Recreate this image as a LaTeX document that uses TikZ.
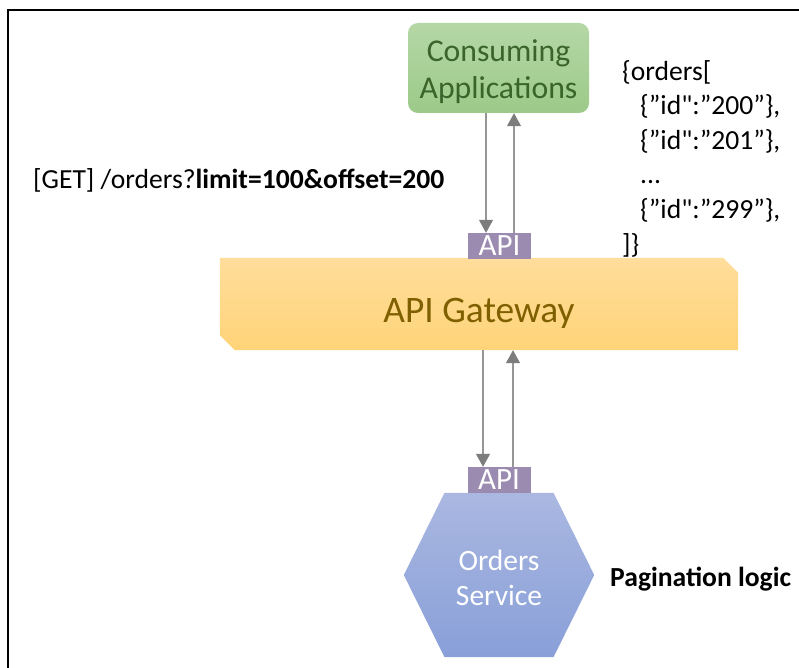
\documentclass[tikz,border=0pt]{standalone}
\usepackage{fontspec}
\setmainfont{Carlito}[Ligatures=TeXOff]
\usetikzlibrary{arrows.meta,backgrounds}
\definecolor{greenTop}{RGB}{181,215,166}
\definecolor{greenBot}{RGB}{156,202,137}
\definecolor{greenTxt}{RGB}{58,100,42}
\definecolor{goldTop}{RGB}{255,221,155}
\definecolor{goldBot}{RGB}{255,211,120}
\definecolor{goldTxt}{RGB}{127,96,0}
\definecolor{blueTop}{RGB}{170,184,225}
\definecolor{blueBot}{RGB}{137,159,216}
\definecolor{apiFill}{RGB}{155,139,176}
\definecolor{arrGray}{RGB}{125,125,125}
\definecolor{lineGray}{RGB}{150,150,150}
\tikzset{
  txt/.style={inner sep=0pt, font=\fontsize{27.6}{34.4}\selectfont},
  apibox/.style={fill=apiFill, text=white, inner sep=0pt, minimum width=63pt, minimum height=26pt, font=\fontsize{31}{32}\selectfont},
  flow/.style={draw=lineGray, line width=1.1pt, -{Triangle[length=13pt,width=14pt,fill=arrGray,color=arrGray]}},
}
\begin{document}
\begin{tikzpicture}[x=1pt,y=-1pt]
\useasboundingbox (0,0) rectangle (799,668);
\draw[line width=2.5pt] (799,10) -- (8,10) -- (8,668);

% Consuming Applications
\node[txt, top color=greenTop, bottom color=greenBot, rounded corners=10pt,
      minimum width=181pt, minimum height=90pt, text=greenTxt, align=center,
      font=\fontsize{31.7}{37}\selectfont] (consume) at (498.5,68) {\rule{0pt}{30pt}Consuming\\Applications};

% API Gateway
\node[txt, minimum width=518pt, minimum height=92pt, text=goldTxt,
      font=\fontsize{37.4}{40}\selectfont, text height=36pt, text depth=0pt] (gw) at (479,304) {API Gateway};

% Orders Service hexagon
\node[txt, minimum width=190pt, minimum height=164pt, text=white, align=center,
      font=\fontsize{29.5}{35}\selectfont] (orders) at (499,575) {\rule{0pt}{27pt}Orders\\Service};

\begin{scope}[on background layer]
\fill[white] (0,0) rectangle (799,668);
\shade[top color=goldTop, bottom color=goldBot]
  (gw.north west) -- ([xshift=-15pt]gw.north east) -- ([yshift=-15pt]gw.north east)
  -- (gw.south east) -- ([xshift=15pt]gw.south west) -- ([yshift=15pt]gw.south west) -- cycle;
\shade[top color=blueTop, bottom color=blueBot]
  ([xshift=-54.5pt]orders.north) -- ([xshift=54.5pt]orders.north) -- (orders.east)
  -- ([xshift=54.5pt]orders.south) -- ([xshift=-54.5pt]orders.south) -- (orders.west) -- cycle;
\end{scope}

% API boxes
\node[apibox] (api1) at (499.5,246) {API};
\node[apibox] (api2) at (499,480) {API};

% connectors
\draw[flow] ([xshift=-12.5pt]consume.south) -- ([xshift=-12.5pt]consume.south |- api1.north);
\draw[flow] ([xshift=14.5pt]api1.north) -- ([xshift=14.5pt]api1.north |- consume.south);
\draw[flow] ([xshift=-16pt]api2.north |- gw.south) -- ([xshift=-16pt]api2.north);
\draw[flow] ([xshift=14pt]api2.north) -- ([xshift=14pt]api2.north |- gw.south);

% texts
\node[txt, anchor=base west] (get) at (33,189) {[GET] /orders?\textbf{limit=100\&offset=200}};
\node[txt, anchor=north west, align=left, font=\fontsize{27.6}{34.6}\selectfont] (json) at (622,60)
  {\{orders[\\
   \hspace*{18pt}\{”id":”200”\},\\
   \hspace*{18pt}\{”id":”201”\},\\
   \hspace*{18pt}...\\
   \hspace*{18pt}\{”id":”299”\},\\
   ]\}};
\node[txt, anchor=base west] (pag) at (610,586) {\textbf{Pagination logic}};
\end{tikzpicture}
\end{document}
